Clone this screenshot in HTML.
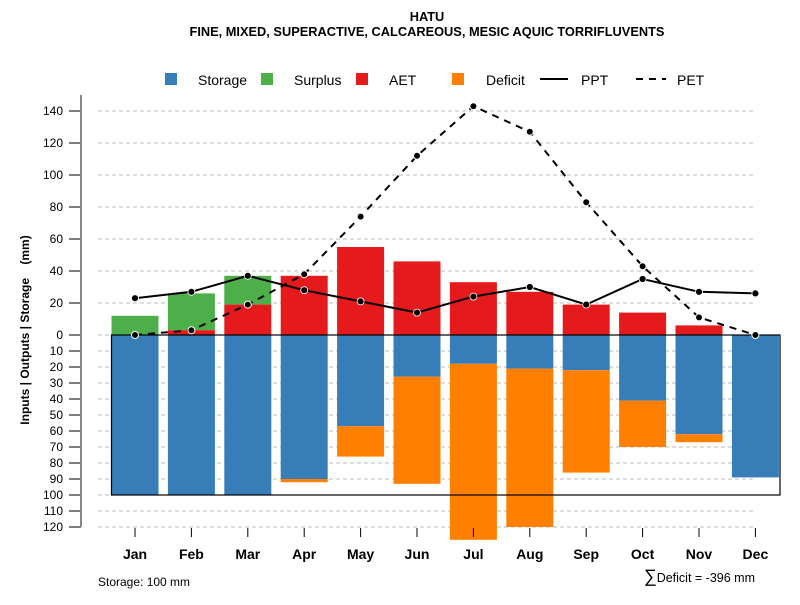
<!DOCTYPE html>
<html><head><meta charset="utf-8"><style>
body{margin:0;background:#fff}
svg text{font-family:"Liberation Sans",sans-serif}
</style></head><body>
<svg id="chart" width="800" height="600" xmlns="http://www.w3.org/2000/svg">
<text x="427" y="21" text-anchor="middle" font-size="12.8" font-weight="bold">HATU</text>
<text x="427" y="36" text-anchor="middle" font-size="12.8" font-weight="bold">FINE, MIXED, SUPERACTIVE, CALCAREOUS, MESIC AQUIC TORRIFLUVENTS</text>
<g font-size="14">
<rect x="165" y="73" width="12" height="12" fill="#377eb8"/>
<text x="198" y="85">Storage</text>
<rect x="261" y="73" width="12" height="12" fill="#4daf4a"/>
<text x="294" y="85">Surplus</text>
<rect x="356" y="73" width="12" height="12" fill="#e41a1c"/>
<text x="389" y="85">AET</text>
<rect x="452" y="73" width="12" height="12" fill="#ff7f00"/>
<text x="486" y="85">Deficit</text>
<line x1="540" y1="79" x2="568" y2="79" stroke="#000" stroke-width="2"/>
<text x="581" y="85">PPT</text>
<line x1="636" y1="79" x2="666" y2="79" stroke="#000" stroke-width="2" stroke-dasharray="7,6"/>
<text x="677" y="85">PET</text>
</g>
<text transform="translate(29,330) rotate(-90)" text-anchor="middle" font-size="12" font-weight="bold">Inputs | Outputs | Storage&#160;&#160;&#160;&#160;(mm)</text>
<g id="grid"></g><g id="bars"></g><g id="axes"></g><g id="lines"></g>
<text x="98" y="586" font-size="12">Storage: 100 mm</text>
<text x="755" y="582" text-anchor="end" font-size="12.5"><tspan font-size="18">∑</tspan>Deficit = -396 mm</text>
</svg>
<script>
const months=["Jan","Feb","Mar","Apr","May","Jun","Jul","Aug","Sep","Oct","Nov","Dec"];
const ppt=[23,27,37,28,21,14,24,30,19,35,27,26];
const pet=[0,3,19,38,74,112,143,127,83,43,11,0];
const aet=[0,3,19,37,55,46,33,27,19,14,6,0];
const surplus=[12,23,18,0,0,0,0,0,0,0,0,0];
const storage=[100,100,100,90,57,26,18,21,22,41,62,89];
const deficit=[0,0,0,2,19,67,110,99,64,29,5,0];
const upTicks=[0,20,40,60,80,100,120,140];
const downTicks=[10,20,30,40,50,60,70,80,90,100,110,120];
const NS="http://www.w3.org/2000/svg";
const y0=335,k=1.6;
const yUp=v=>y0-v*k, yDn=v=>y0+v*k;
const xc=i=>135+i*56.4, bw=47;
function mk(p,t,a){const e=document.createElementNS(NS,t);for(const n in a)e.setAttribute(n,a[n]);document.getElementById(p).appendChild(e);return e;}
upTicks.forEach(v=>{
 const g=mk("grid","line",{x1:98,x2:756,y1:yUp(v),y2:yUp(v),stroke:"#bbb","stroke-dasharray":"4,3"});
 
 
 const t=mk("axes","line",{x1:69,x2:81,y1:yUp(v),y2:yUp(v),stroke:"#000"});
 
 
 const l=mk("axes","text",{x:63,y:yUp(v)+4,"text-anchor":"end","font-size":"12"});l.textContent=v;
 
 
});
downTicks.forEach(v=>{
 const g=mk("grid","line",{x1:98,x2:756,y1:yDn(v),y2:yDn(v),stroke:"#bbb","stroke-dasharray":"4,3"});
 
 
 const t=mk("axes","line",{x1:69,x2:81,y1:yDn(v),y2:yDn(v),stroke:"#000"});
 
 
 const l=mk("axes","text",{x:63,y:yDn(v)+4,"text-anchor":"end","font-size":"12"});l.textContent=v;
 
 
});
const ax=mk("axes","line",{x1:81,x2:81,y1:yUp(150),y2:yDn(120),stroke:"#888","stroke-width":2});


months.forEach((m,i)=>{
 const x=xc(i);
 function bar(y1,y2,c,n){const r=mk("bars","rect",{x:x-bw/2,y:Math.min(y1,y2),width:bw,height:Math.abs(y2-y1),fill:c});
  
  }
 if(surplus[i]>0)bar(yUp(aet[i]),yUp(aet[i]+surplus[i]),"#4daf4a","surplus-bar-"+m.toLowerCase());
 if(aet[i]>0)bar(yUp(0),yUp(aet[i]),"#e41a1c","aet-bar-"+m.toLowerCase());
 bar(yDn(0),yDn(storage[i]),"#377eb8","storage-bar-"+m.toLowerCase());
 if(deficit[i]>0)bar(yDn(storage[i]),yDn(storage[i]+deficit[i]),"#ff7f00","deficit-bar-"+m.toLowerCase());
 const t=mk("axes","line",{x1:x,x2:x,y1:528,y2:537,stroke:"#000"});
 
 
 const l=mk("axes","text",{x:x,y:559,"text-anchor":"middle","font-size":"14","font-weight":"bold"});l.textContent=m;
 
 
});
const box=mk("bars","rect",{x:xc(0)-bw/2,y:yDn(0),width:780-(xc(0)-bw/2),height:yDn(100)-yDn(0),fill:"none",stroke:"#000","stroke-width":1.2});


const pp=mk("lines","polyline",{points:ppt.map((v,i)=>xc(i)+","+yUp(v)).join(" "),fill:"none",stroke:"#000","stroke-width":2});


const pe=mk("lines","polyline",{points:pet.map((v,i)=>xc(i)+","+yUp(v)).join(" "),fill:"none",stroke:"#000","stroke-width":2,"stroke-dasharray":"7,6"});


ppt.forEach((v,i)=>{const c=mk("lines","circle",{cx:xc(i),cy:yUp(v),r:3.5,fill:"#000",stroke:"#fff","stroke-width":0.8});
 
 });
pet.forEach((v,i)=>{const c=mk("lines","circle",{cx:xc(i),cy:yUp(v),r:3.5,fill:"#000",stroke:"#fff","stroke-width":1});
 
 });
</script>
</body></html>
